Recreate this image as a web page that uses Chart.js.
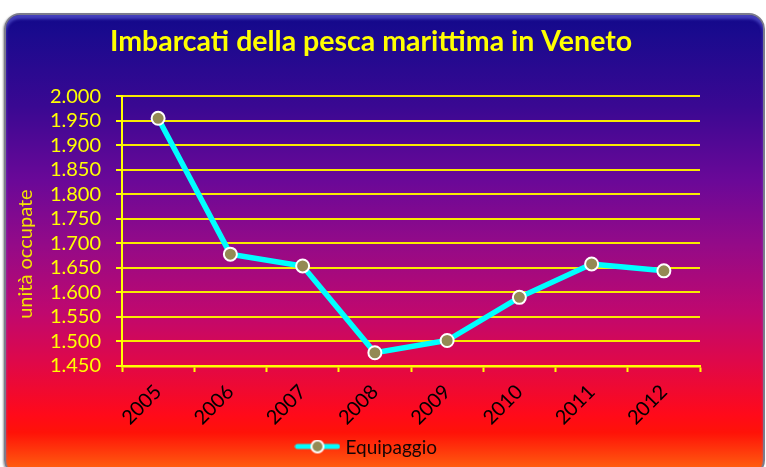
<!DOCTYPE html>
<html>
<head>
<meta charset="utf-8">
<script src="https://cdn.jsdelivr.net/npm/chart.js@4.4.0/dist/chart.umd.min.js"></script>
<style>
  html, body { margin: 0; padding: 0; background: #ffffff; }
  #wrap { position: relative; width: 766px; height: 467px; overflow: hidden; background: #ffffff; }
  #card {
    position: absolute; left: 4px; top: 13px; width: 757px; height: 459px;
    border: 2px solid #7c7c8c; border-radius: 16px;
    background: linear-gradient(to bottom,
      #13088a 0%, #1a0a8e 4%, #3a0892 20%, #6a0898 36%, #940a88 50%,
      #c0086e 65%, #e00848 76%, #ff0a1a 87%, #ff1208 91%, #ff6a10 100%);
    box-shadow: inset 0 4px 3px rgba(110,110,230,0.55), -1px 1px 2px rgba(0,0,0,0.35);
  }
  #c { position: absolute; left: 0; top: 0; }
</style>
</head>
<body>
<div id="wrap">
  <div id="card"></div>
  <canvas id="c" width="766" height="467"></canvas>
</div>
<script>
const years = ['2005', '2006', '2007', '2008', '2009', '2010', '2011', '2012'];
const equipaggio = [1955, 1678, 1654, 1477, 1502, 1590, 1658, 1644];
const yTickLabels = ['1.450', '1.500', '1.550', '1.600', '1.650', '1.700', '1.750', '1.800', '1.850', '1.900', '1.950', '2.000'];
const seriesName = 'Equipaggio';
const chartTitle = 'Imbarcati della pesca marittima in Veneto';
const yAxisTitle = 'unità occupate';

const FONT = 'Lato, "Open Sans", "Liberation Sans", sans-serif';
const YELLOW = '#ffff00';
const LINE = '#00ffff';
const MARKER = '#948a54';

// legend symbol: line with marker
function legendIcon() {
  const cv = document.createElement('canvas');
  cv.width = 46; cv.height = 16;
  const g = cv.getContext('2d');
  g.strokeStyle = LINE; g.lineWidth = 5; g.lineCap = 'round';
  g.beginPath(); g.moveTo(3, 7); g.lineTo(43, 7); g.stroke();
  g.beginPath(); g.arc(23, 7, 6, 0, Math.PI * 2);
  g.fillStyle = MARKER; g.fill();
  g.lineWidth = 2; g.strokeStyle = '#ffffff'; g.stroke();
  return cv;
}
const icon = legendIcon();

const boxShift = {
  id: 'boxShift',
  afterLayout(chart) {
    const lg = chart.legend;
    if (lg) { lg.left += 12; lg.right += 12; }
    const tb = chart.titleBlock;
    if (tb) { tb.left += 15; tb.right += 15; }
  }
};

// y-axis title, drawn as text beside the axis (Excel places it a bit lower than the scale centre)
const yTitlePlugin = {
  id: 'yTitle',
  afterDraw(chart) {
    const ys = chart.scales.y;
    const ctx = chart.ctx;
    ctx.save();
    ctx.font = '20px ' + FONT;
    ctx.fillStyle = '#f4e400';
    ctx.textAlign = 'center';
    ctx.textBaseline = 'middle';
    ctx.translate(ys.left + 14, (ys.top + ys.bottom) / 2 + 23);
    ctx.rotate(-Math.PI / 2);
    ctx.fillText(yAxisTitle, 0, 0);
    ctx.restore();
  }
};

new Chart(document.getElementById('c'), {
  type: 'line',
  data: {
    labels: years,
    datasets: [{
      label: seriesName,
      data: equipaggio,
      borderColor: LINE,
      borderWidth: 5.5,
      backgroundColor: MARKER,
      pointBackgroundColor: MARKER,
      pointBorderColor: '#ffffff',
      pointBorderWidth: 2,
      pointRadius: 6.5,
      pointHoverRadius: 6.5,
      tension: 0,
      fill: false
    }]
  },
  options: {
    responsive: false,
    animation: false,
    layout: { padding: { left: 12, right: 66, top: 0, bottom: 0 } },
    plugins: {
      tooltip: { enabled: false },
      title: {
        display: true,
        text: chartTitle,
        color: YELLOW,
        font: { family: FONT, size: 28.5, weight: 'bold' },
        padding: { top: 25, bottom: 37 }
      },
      legend: {
        display: true,
        position: 'bottom',
        labels: {
          color: '#140505',
          font: { family: FONT, size: 19 },
          usePointStyle: true,
          pointStyleWidth: 37,
          padding: 8,
          generateLabels(chart) {
            return chart.data.datasets.map((ds, i) => ({
              text: ds.label,
              pointStyle: icon,
              fillStyle: MARKER,
              strokeStyle: LINE,
              lineWidth: 0,
              hidden: false,
              datasetIndex: i,
              fontColor: '#140505'
            }));
          }
        }
      }
    },
    scales: {
      x: {
        offset: true,
        grid: {
          display: true,
          drawOnChartArea: false,
          drawTicks: true,
          tickLength: 6,
          tickColor: YELLOW,
          tickWidth: 2,
          offset: true
        },
        border: { display: true, color: YELLOW, width: 2.5 },
        ticks: {
          color: '#000000',
          font: { family: FONT, size: 20 },
          minRotation: 45,
          maxRotation: 45,
          padding: 8,
          autoSkip: false
        },
        afterFit(scale) { scale.height = 64; }
      },
      y: {
        min: 1450,
        max: 2000,
        grid: {
          display: true,
          color: '#f8ea00',
          lineWidth: 2,
          drawTicks: true,
          tickLength: 6,
          tickColor: YELLOW
        },
        border: { display: true, color: YELLOW, width: 2 },
        ticks: {
          stepSize: 50,
          autoSkip: false,
          color: YELLOW,
          font: { family: FONT, size: 20 },
          padding: 15,
          callback: (v, i) => yTickLabels[i]
        },
        title: { display: false },
        afterFit(scale) { scale.width = 110; }
      }
    }
  },
  plugins: [boxShift, yTitlePlugin]
});
</script>
</body>
</html>
